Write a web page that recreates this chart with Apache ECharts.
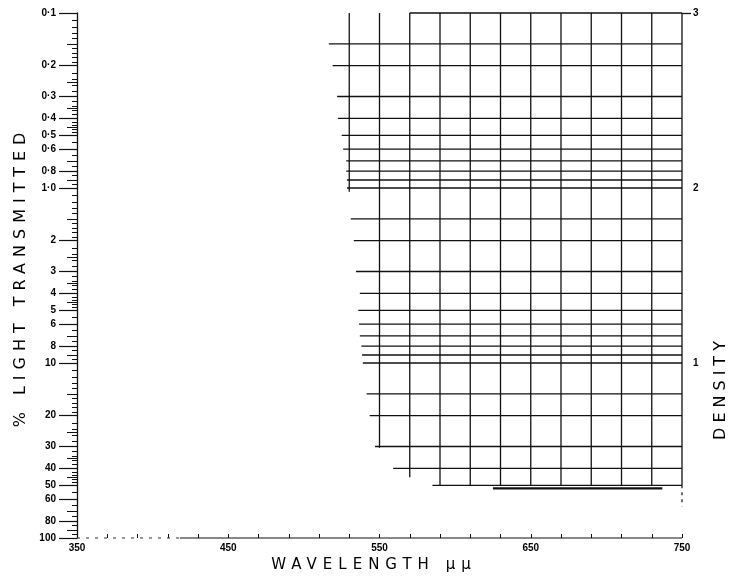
<!DOCTYPE html>
<html><head><meta charset="utf-8">
<script src="https://cdn.jsdelivr.net/npm/echarts@6/dist/echarts.min.js"></script>
<style>html,body{margin:0;padding:0;background:#fff}#c{width:736px;height:583px}</style>
</head><body><div id="c"></div>
<script>
// ---- tick / label data ----
const wavelengthTicks = [350,370,390,410,430,450,470,490,510,530,550,570,590,610,630,650,670,690,710,730,750];
const wavelengthLabels = [350,450,550,650,750];
const pctLabelValues = [0.1,0.2,0.3,0.4,0.5,0.6,0.8,1,2,3,4,5,6,8,10,20,30,40,50,60,80,100];
const pctLabelTexts  = ['0·1','0·2','0·3','0·4','0·5','0·6','0·8','1·0','2','3','4','5','6','8','10','20','30','40','50','60','80','100'];
const decades = [0.1, 1, 10];
const mediumMantissa = [1.5, 2.5, 3.5, 4.5, 7, 9];
const minorMantissa = [1.1,1.2,1.3,1.4,1.6,1.7,1.8,1.9,2.2,2.4,2.6,2.8,3.2,3.4,3.6,3.8,4.2,4.4,4.6,4.8,5.5,6.5,7.5,8.5,9.5];
const densityLabels = [1, 2, 3];
const densityTicks = [3];

// ---- grid (graph paper) data ----
const hLinePct     = [0.1,0.15,0.2,0.3,0.4,0.5,0.6,0.7,0.8,0.9,1,1.5,2,3,4,5,6,7,8,9,10,15,20,30,40,50];
const hLineStartNm = [570,516.5,519,522,522.5,525,526,528,528,528.5,528.5,531,533,534.5,537,536,536.5,537,538,538.5,539,541.5,543.5,547,559,585];
const hLineEndNm = 750;
const vLineNm        = [530,550,570,590,610,630,650,670,690,710,730,750];
const vLineTopPct    = 0.1;
const vLineBottomPct = [1.05,30.5,45,50,50,50,50,50,50,50,50,50];
const thickEdgeNm  = [625, 737];
const thickEdgePct = 52;
const dashedEdgePct = [50, 66];
const baselineDottedNm = [350, 418];
const baselineSolidNm  = [418, 750];

// letter-spaced titles (tracking as in the original print)
const SPACING = {'% LIGHT TRANSMITTED':'6px','DENSITY':'5px','WAVELENGTH μμ':'6px'};
(function(){
  const proto = CanvasRenderingContext2D.prototype;
  const orig = proto.fillText;
  proto.fillText = function(t, x, y, w){
    const sp = SPACING[t];
    const args = w === undefined ? [t, x, y] : [t, x, y, w];
    if (sp && 'letterSpacing' in this) {
      const f = this.font;
      this.save();
      this.letterSpacing = sp;
      this.font = f;
      const r = orig.apply(this, args);
      this.restore();
      this.letterSpacing = '0px';
      this.font = f;
      return r;
    }
    if ('letterSpacing' in this && this.letterSpacing !== '0px') {
      this.letterSpacing = '0px';
      this.font = this.font;
    }
    return orig.apply(this, args);
  };
})();

const mediumTicks = [], minorTicks = [];
decades.forEach(d => {
  mediumMantissa.forEach(m => mediumTicks.push(+(d*m).toPrecision(6)));
  minorMantissa.forEach(m => minorTicks.push(+(d*m).toPrecision(6)));
});

const INK = '#111';
const labelFont = {fontFamily:'Liberation Sans', fontWeight:'bold', fontSize:10, color:'#000'};

function pctLabel(v){
  for (let i = 0; i < pctLabelValues.length; i++) {
    if (Math.abs(Math.log10(v) - Math.log10(pctLabelValues[i])) < 1e-6) return pctLabelTexts[i];
  }
  return '';
}

const logAxisBase = {
  type:'log', logBase:10, min:0.1, max:100, inverse:true, position:'left',
  splitLine:{show:false}, axisLine:{show:false}
};

const chart = echarts.init(document.getElementById('c'), null, {renderer:'canvas'});
chart.setOption({
  animation:false,
  backgroundColor:'#fff',
  grid:{left:77, right:54, top:13, bottom:45, containLabel:false},
  xAxis:{
    type:'value', min:350, max:750,
    axisLine:{show:false},
    splitLine:{show:false},
    axisTick:{show:true, inside:true, length:4, customValues:wavelengthTicks, lineStyle:{color:INK, width:1}},
    axisLabel:Object.assign({customValues:wavelengthLabels, margin:5, formatter:v=>String(v)}, labelFont)
  },
  yAxis:[
    Object.assign({}, logAxisBase, {
      axisLine:{show:true, lineStyle:{color:INK, width:1.3}},
      axisTick:{show:true, length:18, customValues:pctLabelValues, lineStyle:{color:INK, width:1.2}},
      axisLabel:Object.assign({customValues:pctLabelValues, margin:21, formatter:pctLabel}, labelFont)
    }),
    Object.assign({}, logAxisBase, {
      axisTick:{show:true, length:10, customValues:mediumTicks, lineStyle:{color:INK, width:1}},
      axisLabel:{show:false}
    }),
    Object.assign({}, logAxisBase, {
      axisTick:{show:true, length:5, customValues:minorTicks, lineStyle:{color:INK, width:1}},
      axisLabel:{show:false}
    }),
    {
      type:'value', min:0, max:3, position:'right',
      splitLine:{show:false}, axisLine:{show:false},
      axisTick:{show:true, length:9, customValues:densityTicks, lineStyle:{color:INK, width:1.3}},
      axisLabel:Object.assign({customValues:densityLabels, margin:11, formatter:v=>String(v)}, labelFont)
    }
  ],
  graphic:[
    {type:'text', x:21, y:277, rotation:Math.PI/2,
     style:{text:'% LIGHT TRANSMITTED', fontFamily:'DejaVu Sans', fontSize:16, fill:'#000', textAlign:'center', textVerticalAlign:'middle'}},
    {type:'text', x:721, y:388, rotation:Math.PI/2,
     style:{text:'DENSITY', fontFamily:'DejaVu Sans', fontSize:16, fill:'#000', textAlign:'center', textVerticalAlign:'middle'}},
    {type:'text', x:374, y:565,
     style:{text:'WAVELENGTH μμ', fontFamily:'DejaVu Sans', fontSize:15, fill:'#000', textAlign:'center', textVerticalAlign:'middle'}}
  ],
  series:[
    {
      type:'custom', name:'horizontal rulings', xAxisIndex:0, yAxisIndex:0, clip:false,
      data: hLinePct.map((p,i)=>[hLineStartNm[i], p, hLineEndNm]),
      renderItem:(params, api)=>{
        const a = api.coord([api.value(0), api.value(1)]);
        const b = api.coord([api.value(2), api.value(1)]);
        return {type:'line', shape:{x1:a[0], y1:a[1], x2:b[0], y2:b[1]}, style:{stroke:INK, lineWidth:1.3}};
      }
    },
    {
      type:'custom', name:'vertical rulings', xAxisIndex:0, yAxisIndex:0, clip:false,
      data: vLineNm.map((x,i)=>[x, vLineTopPct, vLineBottomPct[i]]),
      renderItem:(params, api)=>{
        const a = api.coord([api.value(0), api.value(1)]);
        const b = api.coord([api.value(0), api.value(2)]);
        return {type:'line', shape:{x1:a[0], y1:a[1], x2:b[0], y2:b[1]}, style:{stroke:INK, lineWidth:1.3}};
      }
    },
    {
      type:'line', name:'edge', xAxisIndex:0, yAxisIndex:0, clip:false, symbol:'none', silent:true,
      data: thickEdgeNm.map(x=>[x, thickEdgePct]),
      lineStyle:{color:INK, width:2.2}
    },
    {
      type:'line', name:'dashed edge', xAxisIndex:0, yAxisIndex:0, clip:false, symbol:'none', silent:true,
      data: dashedEdgePct.map(p=>[750, p]),
      lineStyle:{color:INK, width:1.2, type:[3,4]}
    },
    {
      type:'line', name:'baseline dotted', xAxisIndex:0, yAxisIndex:0, clip:false, symbol:'none', silent:true,
      data: baselineDottedNm.map(x=>[x, 100]),
      lineStyle:{color:'#333', width:1, type:[3,6]}
    },
    {
      type:'line', name:'baseline', xAxisIndex:0, yAxisIndex:0, clip:false, symbol:'none', silent:true,
      data: baselineSolidNm.map(x=>[x, 100]),
      lineStyle:{color:INK, width:1.2}
    }
  ]
});
</script></body></html>
